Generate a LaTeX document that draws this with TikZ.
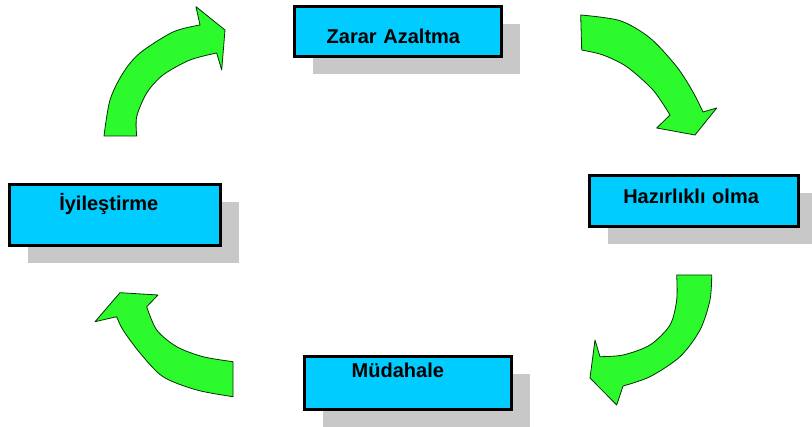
\documentclass[tikz,border=0pt]{standalone}
\usepackage{fontspec}
\setmainfont{Liberation Sans}
\usepackage{tikz}
\usetikzlibrary{shadows}
\definecolor{boxcyan}{RGB}{0,204,255}
\definecolor{leaf}{RGB}{45,250,45}
\definecolor{shade}{RGB}{200,200,200}

\begin{document}
\begin{tikzpicture}[x=1pt,y=-1pt,
  box/.style={rectangle,draw=black,line width=3pt,fill=boxcyan,anchor=north west,outer sep=0pt,inner ysep=0pt,align=left,font=\fontsize{20}{24}\selectfont\bfseries,drop shadow={shadow xshift=18pt,shadow yshift=-18pt,fill=shade,opacity=1}},
  arr/.style={fill=leaf,draw=black!80!green,line width=.8pt,line join=round}]
  \useasboundingbox (0,0) rectangle (812,427);
  \foreach \n/\x/\y/\w/\px/\tht/\tdp/\lbl in {zarar/294.5/6.5/207/32.2/36.8/13.2/Zarar Azaltma, hazirlik/589.5/175.5/209/33.8/27.8/23.2/Hazırlıklı olma, iyilestirme/9.5/184.5/211/49.8/26.5/34.5/İyileştirme, mudahale/304.5/356.5/207/47.2/21.5/31.5/Müdahale}
    {\pgfmathsetmacro\tw{\w-2*\px} \node[box,inner xsep=\px pt,text width=\tw pt,text height=\tht pt,text depth=\tdp pt] (\n) at (\x,\y) {\lbl};}
  \draw[arr] plot[smooth] coordinates {(580.7,15) (620,20.7) (650,38) (676.7,66.7) (693,92) (703,112)} -- (716.7,108) -- (695,135) -- (656.7,128) -- plot[smooth] coordinates {(670,115) (653,90) (626.7,66.7) (603,55) (581.7,50)} -- cycle;
  \draw[arr] plot[smooth] coordinates {(711.7,275) (710,300) (700,330) (680,356.7) (650,376.7) (623,386)} -- (616.7,405) -- (590,378) -- (595,340) -- plot[smooth] coordinates {(600,356.7) (623,355) (650,345) (670,325) (676.7,300) (676.7,275)} -- cycle;
  \draw[arr] plot[smooth] coordinates {(233,396.7) (196.7,390) (163,376.7) (140,353) (123,330) (116.7,316.7)} -- (95,321.7) -- (120,292.7) -- (158,295) -- plot[smooth] coordinates {(146.7,306.7) (156.7,330) (176.7,346.7) (203,356.7) (233,361.7)} -- cycle;
  \draw[arr] plot[smooth] coordinates {(104,136) (110,100) (123,73) (140,53) (173,32) (200,25)} -- (196,6.7) -- (225,30) -- (221.7,70) -- plot[smooth] coordinates {(216.7,53) (190,60) (163,75) (146.7,93) (136.7,116.7) (136.7,136)} -- cycle;
\end{tikzpicture}
\end{document}
